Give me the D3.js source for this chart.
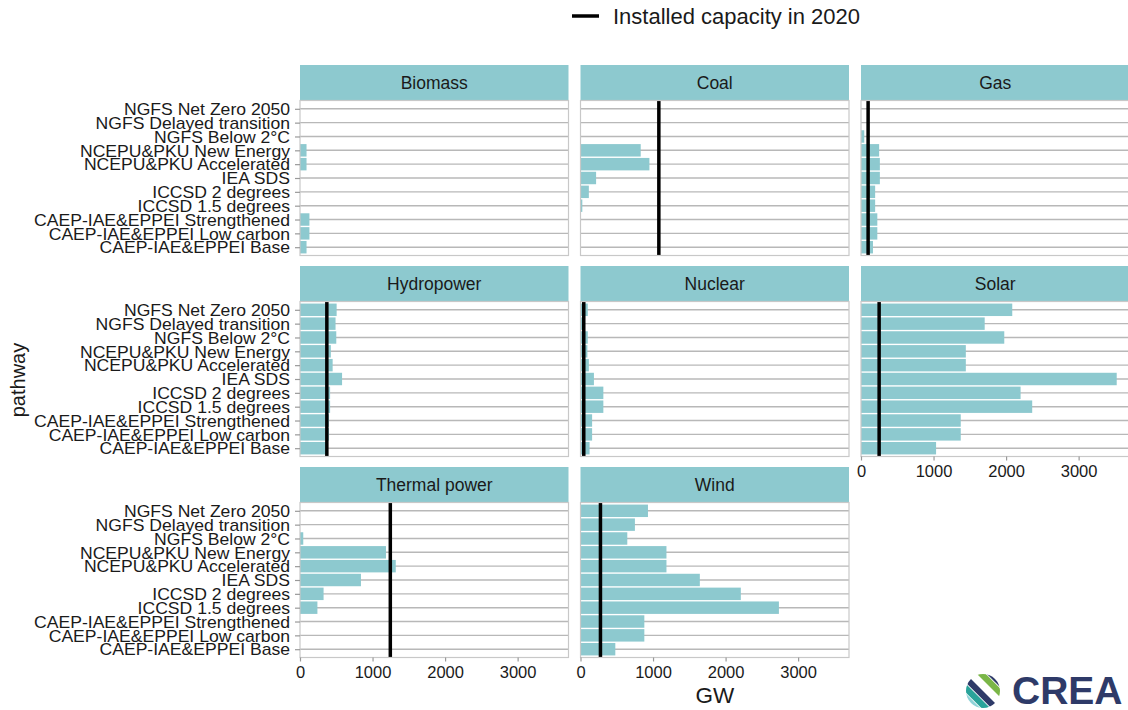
<!DOCTYPE html>
<html>
<head>
<meta charset="utf-8">
<script src="https://cdn.jsdelivr.net/npm/d3@7"></script>
<style>
  html, body { margin: 0; padding: 0; background: #ffffff; }
  svg { display: block; font-family: "Liberation Sans", Arial, sans-serif; }
</style>
</head>
<body>
<svg id="chart" width="1128" height="710"></svg>
<script>
// Pathways, listed top to bottom
const categories = [
  "NGFS Net Zero 2050",
  "NGFS Delayed transition",
  "NGFS Below 2°C",
  "NCEPU&PKU New Energy",
  "NCEPU&PKU Accelerated",
  "IEA SDS",
  "ICCSD 2 degrees",
  "ICCSD 1.5 degrees",
  "CAEP-IAE&EPPEI Strengthened",
  "CAEP-IAE&EPPEI Low carbon",
  "CAEP-IAE&EPPEI Base"
];

const technologies = ["Biomass", "Coal", "Gas", "Hydropower", "Nuclear", "Solar", "Thermal power", "Wind"];

// 2060 capacity by pathway (GW), same order as categories
const biomass = [0, 0, 0, 90, 90, 0, 0, 0, 130, 130, 90];
const coal    = [0, 0, 0, 830, 950, 215, 115, 25, 0, 0, 0];
const gas     = [0, 0, 45, 250, 260, 260, 195, 195, 225, 225, 165];
const hydro   = [505, 490, 500, 425, 450, 580, 415, 415, 400, 400, 385];
const nuclear = [100, 45, 100, 95, 115, 185, 315, 315, 160, 160, 125];
const solar   = [2085, 1705, 1975, 1445, 1445, 3525, 2200, 2360, 1375, 1375, 1035];
const thermal = [0, 0, 45, 1185, 1320, 840, 325, 240, 0, 0, 0];
const wind    = [930, 750, 645, 1185, 1185, 1645, 2210, 2735, 880, 880, 480];

// Installed capacity in 2020 (GW); null where not shown
const capacity2020 = [null, 1080, 98, 370, 45, 250, 1245, 275];

const xTicks = [0, 1000, 2000, 3000];

const seriesByTech = [biomass, coal, gas, hydro, nuclear, solar, thermal, wind];

// ---- layout ----
const svg = d3.select("#chart");
const FILL = "#8dc9cf";
const TEXT = "#1a1a1a";
const GRID = "#b8b8b8";
const BORDER = "#c8c8c8";
const FONT = "'Liberation Sans', Arial, sans-serif";

const colX = [300, 580.5, 861];
const panelW = 268.5;
const stripTop = [65, 266, 467];
const stripH = 35.5;
const panelH = 155;

const maxVal = d3.max(seriesByTech.flat());
const x = d3.scaleLinear().domain([0, maxVal * 1.05]).range([0, panelW]);
const y = d3.scalePoint().domain(categories).range([0, panelH]).padding(0.6);
const barH = y.step() * 0.9;

// which panels carry x-axis tick labels (bottom of each column)
const showX = { "Solar": true, "Thermal power": true, "Wind": true };

// pathway labels are set slightly wide
const labelStretch = 1.1;

technologies.forEach((tech, i) => {
  const col = i % 3, row = Math.floor(i / 3);
  const px = colX[col];
  const st = stripTop[row];
  const py = st + stripH;
  const vals = seriesByTech[i];

  // strip
  svg.append("rect")
    .attr("x", px).attr("y", st).attr("width", panelW).attr("height", stripH)
    .attr("fill", FILL);
  svg.append("text")
    .attr("x", px + panelW / 2).attr("y", st + stripH / 2 + 6.5)
    .attr("text-anchor", "middle").attr("font-size", 17.5).attr("fill", TEXT)
    .text(tech);

  const g = svg.append("g").attr("transform", `translate(${px},${py})`);

  g.append("rect").attr("width", panelW).attr("height", panelH).attr("fill", "#ffffff");

  // horizontal grid
  g.selectAll("line.grid").data(categories).enter().append("line")
    .attr("class", "grid")
    .attr("x1", 0).attr("x2", panelW)
    .attr("y1", d => y(d)).attr("y2", d => y(d))
    .attr("stroke", GRID).attr("stroke-width", 1.4);

  // bars
  g.selectAll("rect.bar").data(categories.map((c, k) => ({ c, v: vals[k] })).filter(d => d.v > 0))
    .enter().append("rect")
    .attr("class", "bar")
    .attr("x", x(0))
    .attr("y", d => y(d.c) - barH / 2)
    .attr("width", d => x(d.v) - x(0))
    .attr("height", barH)
    .attr("fill", FILL);

  // 2020 installed capacity
  if (capacity2020[i] != null) {
    g.append("line")
      .attr("x1", x(capacity2020[i])).attr("x2", x(capacity2020[i]))
      .attr("y1", 0).attr("y2", panelH)
      .attr("stroke", "#000000").attr("stroke-width", 3.5);
  }

  // panel border
  g.append("rect").attr("width", panelW).attr("height", panelH)
    .attr("fill", "none").attr("stroke", BORDER).attr("stroke-width", 1.2);

  // y axis on first column
  if (col === 0) {
    const ya = d3.axisLeft(y).tickSize(5).tickPadding(5);
    const ag = g.append("g").call(ya);
    ag.select(".domain").remove();
    ag.selectAll(".tick line").attr("stroke", "#999999").attr("stroke-width", 1.2);
    ag.selectAll(".tick text")
      .attr("font-size", 16).attr("fill", TEXT)
      .attr("font-family", FONT)
      .attr("x", -10 / labelStretch)
      .attr("transform", `scale(${labelStretch},1)`)
      .attr("dy", "0.36em");
  }

  // x axis at the bottom of each column
  if (showX[tech]) {
    const xa = d3.axisBottom(x).tickValues(xTicks).tickFormat(d3.format("d"))
      .tickSize(4).tickPadding(5);
    const ag = g.append("g").attr("transform", `translate(0,${panelH})`).call(xa);
    ag.select(".domain").remove();
    ag.selectAll(".tick line").attr("stroke", "#999999").attr("stroke-width", 1.2);
    ag.selectAll(".tick text")
      .attr("font-size", 16.5).attr("fill", TEXT)
      .attr("font-family", FONT);
  }
});

// axis titles
svg.append("text")
  .attr("x", colX[1] + panelW / 2).attr("y", 703)
  .attr("text-anchor", "middle").attr("font-size", 22.5).attr("fill", TEXT)
  .text("GW");

svg.append("text")
  .attr("transform", "translate(25,380) rotate(-90)")
  .attr("text-anchor", "middle").attr("font-size", 20).attr("fill", TEXT)
  .text("pathway");

// legend
svg.append("line")
  .attr("x1", 572).attr("x2", 599).attr("y1", 16).attr("y2", 16)
  .attr("stroke", "#000000").attr("stroke-width", 3.5);
svg.append("text")
  .attr("x", 613).attr("y", 24).attr("font-size", 22).attr("fill", TEXT)
  .text("Installed capacity in 2020");

// CREA logo
const defs = svg.append("defs");
defs.append("clipPath").attr("id", "logoClip")
  .append("circle").attr("cx", 0).attr("cy", 0).attr("r", 17);
const logo = svg.append("g").attr("transform", "translate(983,691)");
const stripes = logo.append("g").attr("clip-path", "url(#logoClip)")
  .append("g").attr("transform", "rotate(45)");
const stripeColors = ["#2e3a68", "#7ab648", "#ffffff", "#2e3a68", "#2aa39a", "#8fd3d8"];
stripeColors.forEach((c, k) => {
  stripes.append("rect")
    .attr("x", -24).attr("y", -21 + k * 7).attr("width", 48).attr("height", 6.2)
    .attr("fill", c);
});
svg.append("text")
  .attr("x", 1012).attr("y", 704)
  .attr("font-size", 39).attr("font-weight", "bold").attr("fill", "#2e3a68")
  .text("CREA");
</script>
</body>
</html>
